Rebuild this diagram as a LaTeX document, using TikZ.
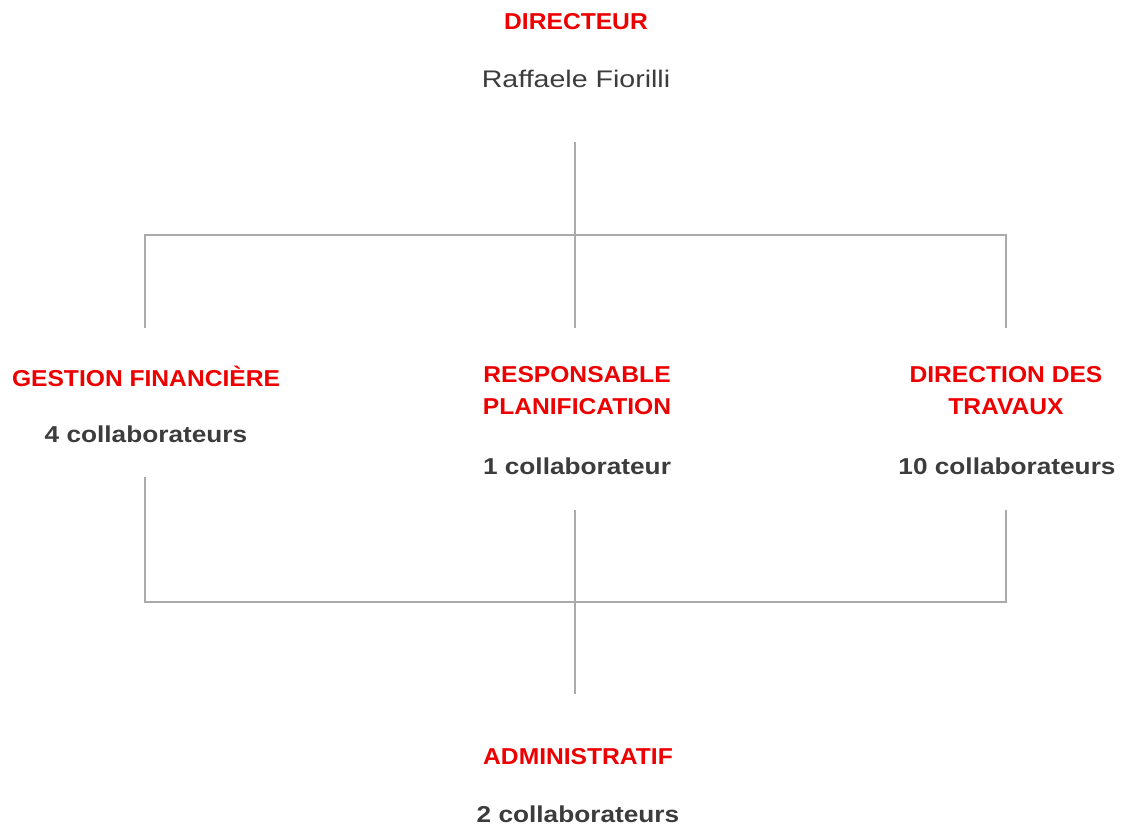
\documentclass[tikz,border=0pt]{standalone}
\usepackage{fontspec}
\setmainfont{Liberation Sans}
\newfontfamily\headfont[FakeStretch=1.07]{Liberation Sans}
\newfontfamily\bodyfont[FakeStretch=1.14]{Liberation Sans}
\newfontfamily\personfont[FakeStretch=1.19]{Liberation Sans}
\definecolor{hred}{RGB}{236,0,0}
\definecolor{tgray}{RGB}{60,60,60}
\definecolor{lgray}{RGB}{170,170,170}
\begin{document}
\begin{tikzpicture}[x=1pt,y=-1pt,
  headtxt/.style={text=hred,font=\headfont\bfseries\fontsize{23}{32}\selectfont,align=center,inner sep=0pt,anchor=center},
  cnttxt/.style={text=tgray,font=\bodyfont\bfseries\fontsize{23}{32}\selectfont,inner sep=0pt,anchor=center},
  persontxt/.style={text=tgray,font=\personfont\fontsize{24}{32}\selectfont,inner sep=0pt,anchor=center},
  linkline/.style={draw=lgray,line width=1.1pt}]
\useasboundingbox (0,0) rectangle (1124,826);
% texts
\node[headtxt] (dir) at (576,22) {DIRECTEUR};
\node[persontxt] (dirn) at (576,79) {Raffaele Fiorilli};
\node[headtxt] (gf) at (146,376) {GESTION FINANCIÈRE};
\node[cnttxt] (gfc) at (146,434) {4 collaborateurs};
\node[headtxt] (rp) at (577,391) {RESPONSABLE\\PLANIFICATION};
\node[cnttxt] (rpc) at (577,466) {1 collaborateur};
\node[headtxt] (dt) at (1006,391) {DIRECTION DES\\TRAVAUX};
\node[cnttxt] (dtc) at (1007,466) {10 collaborateurs};
\node[headtxt] (adm) at (578,757) {ADMINISTRATIF};
\node[cnttxt] (admc) at (578,814) {2 collaborateurs};
% connector points
\coordinate (t0) at (575,142);
\coordinate (tm) at (575,235);
\coordinate (tl) at (145,235);
\coordinate (tr) at (1006,235);
\coordinate (tle) at (145,328);
\coordinate (tme) at (575,328);
\coordinate (tre) at (1006,328);
\coordinate (bls) at (145,477);
\coordinate (bms) at (575,510);
\coordinate (brs) at (1006,510);
\coordinate (bl) at (145,602);
\coordinate (bm) at (575,602);
\coordinate (br) at (1006,602);
\coordinate (be) at (575,694);
\draw[linkline] (t0) -- (tm);
\draw[linkline] (tle) -- (tl) -- (tr) -- (tre);
\draw[linkline] (tm) -- (tme);
\draw[linkline] (bls) -- (bl) -- (br) -- (brs);
\draw[linkline] (bms) -- (bm) -- (be);
\end{tikzpicture}
\end{document}
